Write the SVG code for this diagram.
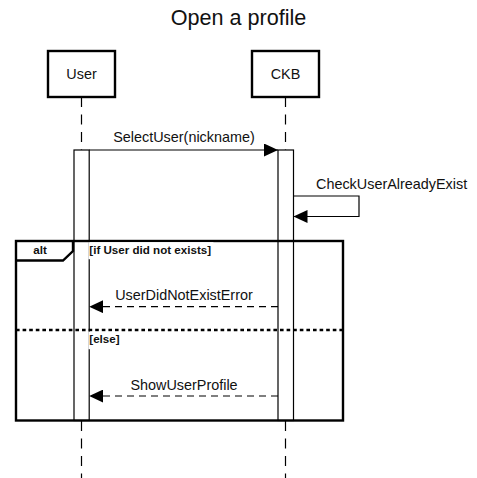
<svg xmlns="http://www.w3.org/2000/svg" width="477" height="478" viewBox="0 0 477 478">
<style>
text{font-family:"Liberation Sans",Arial,sans-serif;fill:#111}
.title{font-size:21.6px}
.msg{font-size:14.4px}
.part{fill:#fff;stroke:#000;stroke-width:2.4}
.life{stroke:#000;stroke-width:1.2;stroke-dasharray:10 7.5;fill:none}
.act{fill:#fff;stroke:#000;stroke-width:1.2}
.line{stroke:#000;stroke-width:1.2;fill:none}
.ret{stroke:#000;stroke-width:1.2;fill:none;stroke-dasharray:7 5}
.frame{fill:none;stroke:#000;stroke-width:2.4}
.cond{font-size:11.6px;font-weight:bold}
</style>
<defs>
<marker id="ah" viewBox="0 0 14 13" refX="14" refY="6.5" markerWidth="14" markerHeight="13" markerUnits="userSpaceOnUse" orient="auto">
<path d="M0,0 L14,6.5 L0,13 Z" fill="#000"/>
</marker>
</defs>
<rect width="477" height="478" fill="#fff"/>
<text class="title" x="238.5" y="25" text-anchor="middle">Open a profile</text>
<g id="lifelines">
<line class="life" x1="81.5" y1="97" x2="81.5" y2="150"/>
<line class="life" x1="81.5" y1="421" x2="81.5" y2="478"/>
<line class="life" x1="285.5" y1="97" x2="285.5" y2="150"/>
<line class="life" x1="285.5" y1="421" x2="285.5" y2="478"/>
</g>
<g id="user">
<rect class="part" x="48" y="51" width="67" height="46"/>
<text class="msg" x="81.5" y="79" text-anchor="middle">User</text>
</g>
<g id="ckb">
<rect class="part" x="252" y="51" width="67" height="46"/>
<text class="msg" x="285.5" y="79" text-anchor="middle">CKB</text>
</g>
<g id="user-activation">
<rect class="act" x="74" y="150" width="15.2" height="270.5"/>
</g>
<g id="ckb-activation">
<rect class="act" x="278" y="150" width="15.5" height="270.5"/>
</g>
<g id="alt-frame">
<rect class="frame" x="16" y="241" width="327" height="179.5"/>
<path class="frame" d="M16,260.5 L63,260.5 L73,251 L73,241"/>
<text class="cond" x="40" y="254" text-anchor="middle">alt</text>
<line x1="16" y1="330" x2="343" y2="330" stroke="#000" stroke-width="2.4" stroke-dasharray="3.6 3"/>
<rect x="88.4" y="242.2" width="125" height="17" fill="#fff"/>
<text class="cond" x="89.3" y="254">[if User did not exists]</text>
<rect x="88.4" y="331.7" width="33" height="17.5" fill="#fff"/>
<text class="cond" x="89.3" y="343">[else]</text>
</g>
<g id="connectors">
<line class="line" x1="89.2" y1="150" x2="278" y2="150" marker-end="url(#ah)"/>
<text class="msg" x="184" y="142" text-anchor="middle">SelectUser(nickname)</text>
<path class="line" d="M293.5,196 L359,196 L359,216.5 L293.5,216.5" marker-end="url(#ah)"/>
<text class="msg" x="316" y="189">CheckUserAlreadyExist</text>
<line class="ret" x1="278" y1="306.7" x2="89.2" y2="306.7" marker-end="url(#ah)"/>
<text class="msg" x="184" y="300" text-anchor="middle">UserDidNotExistError</text>
<line class="ret" x1="278" y1="396" x2="89.2" y2="396" marker-end="url(#ah)"/>
<text class="msg" x="184" y="390" text-anchor="middle">ShowUserProfile</text>
</g>
</svg>
